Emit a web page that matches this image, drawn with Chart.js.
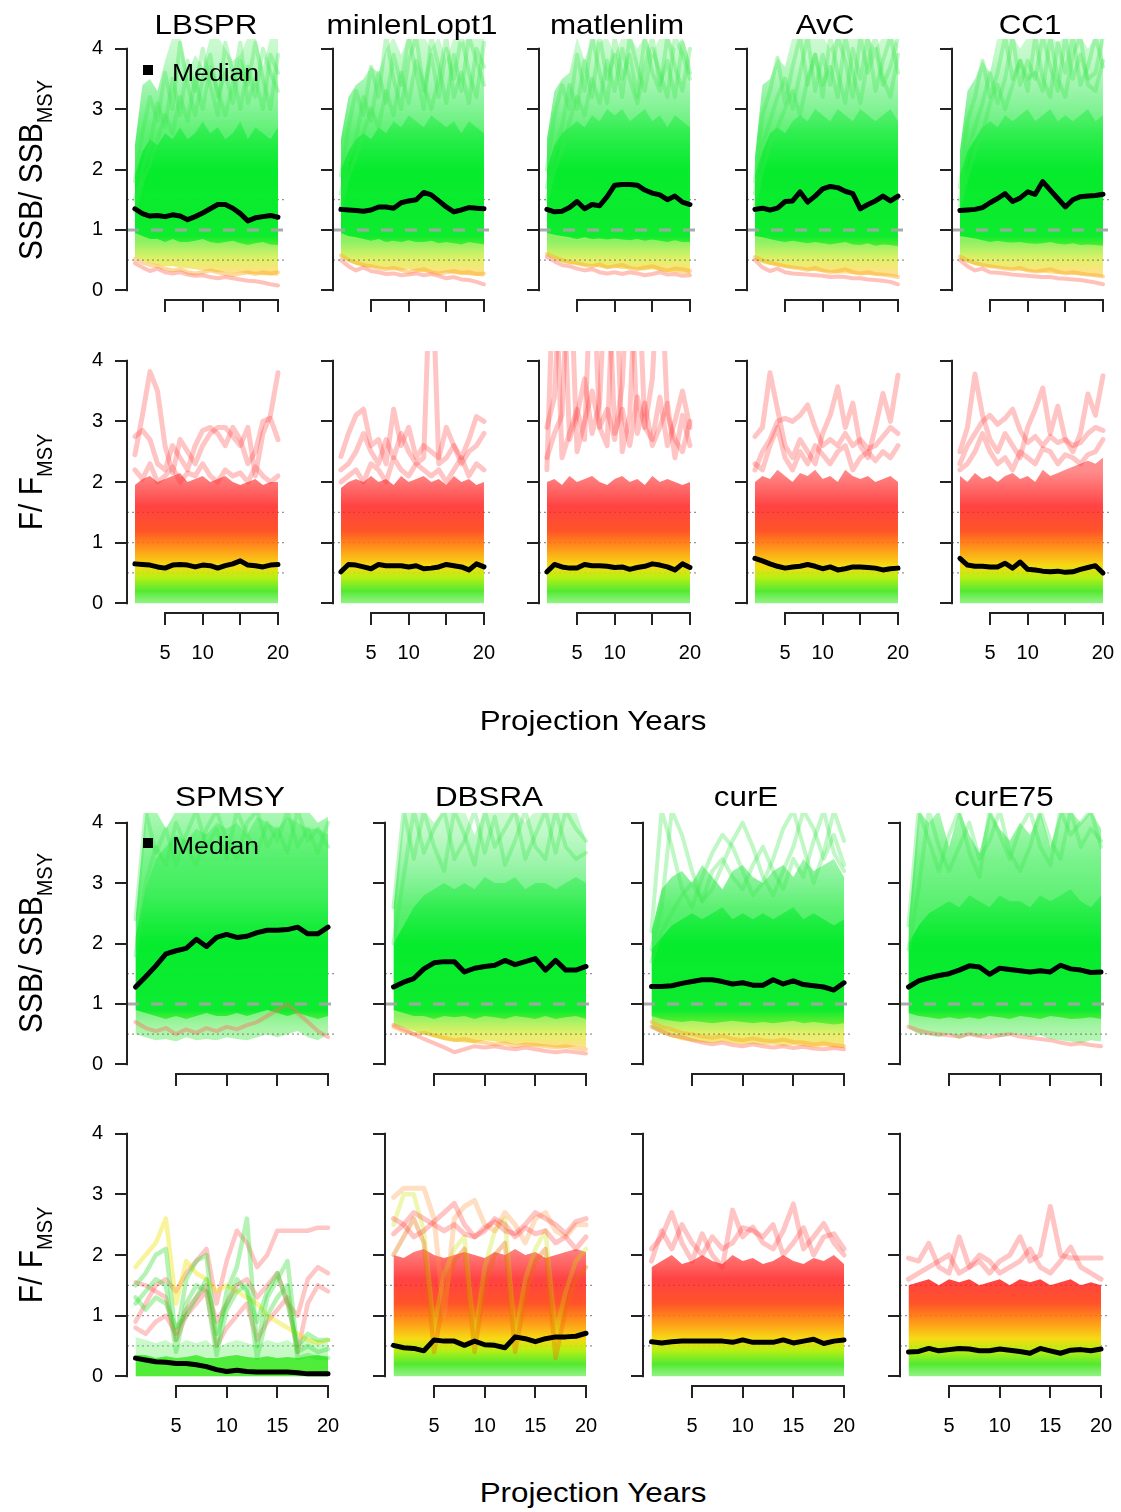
<!DOCTYPE html>
<html>
<head>
<meta charset="utf-8">
<script src="https://cdn.jsdelivr.net/npm/chart.js@4.4.1/dist/chart.umd.min.js"></script>
<style>
  body { margin: 0; background: #fff; }
  #page { position: relative; width: 1121px; height: 1512px; overflow: hidden; font-family: "Liberation Sans", Arial, sans-serif; color: #000; }
  canvas { position: absolute; }
  .txt { position: absolute; white-space: nowrap; z-index: 5; }
  .title { font-size: 28px; line-height: 28px; transform: translateX(-50%) scaleX(1.12); }
  .xlab { font-size: 28px; line-height: 28px; transform: translateX(-50%) scaleX(1.12); }
  .ylab { font-size: 30px; line-height: 30px; transform: translate(-50%, -50%) scaleX(1.12) rotate(-90deg); }
  .ylab span { font-size: 20px; position: relative; top: 9px; }
  .leg { font-size: 23.5px; line-height: 23.5px; transform-origin: left top; transform: scaleX(1.13); }
  .legbox { position: absolute; width: 10px; height: 10px; background: #000; z-index: 5; }
</style>
</head>
<body>
<div id="page"></div>
<script>
// projection years and axis ticks
const years = [1, 2, 3, 4, 5, 6, 7, 8, 9, 10, 11, 12, 13, 14, 15, 16, 17, 18, 19, 20];
const yTicks = [0, 1, 2, 3, 4];
const xTicks = [5, 10, 15, 20];
const refLevels = [0.5, 1, 1.5];

// ---------- SSB / SSBMSY, first group ----------
const ssbMed_LBSPR = [1.35,1.27,1.23,1.24,1.22,1.25,1.23,1.17,1.22,1.28,1.35,1.42,1.42,1.36,1.27,1.15,1.2,1.22,1.24,1.21];
const ssbHiOut_LBSPR = [2.4,3.4,3.5,3.3,3.8,4.2,4.2,3.6,3.9,3.7,4.2,4.2,4.0,3.8,3.9,4.2,4.2,3.7,4.2,4.2];
const ssbHiCore_LBSPR = [1.9,2.3,2.5,2.4,2.6,2.5,2.7,2.5,2.6,2.8,2.6,2.7,2.5,2.6,2.8,2.5,2.7,2.6,2.5,2.7];
const ssbLoCore_LBSPR = [0.95,0.9,0.85,0.85,0.8,0.85,0.8,0.8,0.82,0.85,0.8,0.78,0.8,0.82,0.78,0.75,0.78,0.8,0.76,0.75];
const ssbLoOut_LBSPR = [0.55,0.5,0.45,0.42,0.4,0.4,0.38,0.36,0.35,0.33,0.32,0.3,0.3,0.28,0.3,0.27,0.27,0.25,0.25,0.24];
const ssbLow_LBSPR = [
  [0.45,0.38,0.32,0.36,0.3,0.28,0.3,0.26,0.24,0.25,0.22,0.2,0.22,0.2,0.18,0.16,0.15,0.13,0.1,0.08],
  [0.52,0.46,0.42,0.4,0.36,0.33,0.35,0.3,0.28,0.3,0.33,0.3,0.27,0.25,0.28,0.3,0.27,0.3,0.28,0.3]
];
const ssbHigh_LBSPR = [
  [1.8,2.6,3.2,2.8,3.6,3.0,4.1,3.4,2.9,3.5,3.9,3.2,3.6,3.1,3.8,3.4,4.1,3.5,3.0,3.9],
  [1.5,2.0,2.4,3.1,2.7,3.5,2.9,3.8,3.3,4.0,3.4,2.9,4.1,3.6,3.0,3.7,3.2,4.0,3.6,3.3],
  [1.3,1.8,2.1,2.5,2.9,2.6,3.2,2.8,3.5,3.0,3.7,3.3,2.9,3.4,4.1,3.1,3.5,3.0,3.9,3.6]
];

const ssbMed_minlenLopt1 = [1.34,1.33,1.32,1.31,1.33,1.38,1.38,1.36,1.45,1.48,1.5,1.62,1.58,1.48,1.38,1.3,1.33,1.37,1.36,1.35];
const ssbHiOut_minlenLopt1 = [2.5,3.2,3.4,3.5,3.7,3.6,4.0,4.2,3.9,4.2,4.2,4.2,4.0,4.2,3.8,4.2,4.1,4.2,4.2,4.2];
const ssbHiCore_minlenLopt1 = [2.0,2.3,2.5,2.6,2.5,2.7,2.6,2.8,2.7,2.9,2.8,2.7,2.9,2.8,2.7,2.8,2.6,2.8,2.7,2.6];
const ssbLoCore_minlenLopt1 = [0.95,0.9,0.88,0.85,0.82,0.85,0.8,0.82,0.8,0.83,0.8,0.8,0.82,0.78,0.8,0.78,0.76,0.8,0.78,0.76];
const ssbLoOut_minlenLopt1 = [0.55,0.48,0.42,0.4,0.38,0.36,0.35,0.34,0.33,0.35,0.32,0.3,0.3,0.28,0.3,0.27,0.26,0.25,0.24,0.23];
const ssbLow_minlenLopt1 = [
  [0.5,0.4,0.33,0.38,0.32,0.3,0.27,0.28,0.25,0.26,0.28,0.25,0.27,0.24,0.2,0.22,0.18,0.17,0.14,0.1],
  [0.58,0.5,0.46,0.42,0.4,0.37,0.35,0.37,0.34,0.3,0.33,0.35,0.3,0.28,0.3,0.32,0.29,0.3,0.27,0.28]
];
const ssbHigh_minlenLopt1 = [
  [1.9,2.7,3.3,2.9,3.7,3.2,4.2,3.5,3.0,3.8,4.2,3.3,3.9,3.2,4.0,3.5,4.2,3.6,3.2,4.1],
  [1.6,2.2,2.5,3.2,2.8,3.6,3.1,3.9,3.4,4.2,3.6,3.0,4.2,3.7,3.1,3.9,3.3,4.2,3.8,3.4],
  [1.4,1.9,2.2,2.6,3.0,2.7,3.3,2.9,3.6,3.1,3.8,3.4,3.0,3.5,4.2,3.2,3.6,3.1,4.0,3.7]
];

const ssbMed_matlenlim = [1.34,1.3,1.31,1.37,1.47,1.35,1.42,1.4,1.55,1.74,1.75,1.75,1.74,1.66,1.61,1.58,1.5,1.56,1.46,1.42];
const ssbHiOut_matlenlim = [2.5,3.3,3.5,3.6,4.2,3.8,4.2,4.1,4.2,3.9,4.2,4.2,4.0,4.2,3.9,4.2,4.2,4.0,4.2,3.8];
const ssbHiCore_matlenlim = [2.0,2.4,2.6,2.7,2.8,2.7,2.9,2.8,3.0,2.9,3.0,2.8,2.9,3.0,2.8,2.9,2.7,2.9,2.8,2.7];
const ssbLoCore_matlenlim = [0.95,0.92,0.9,0.88,0.85,0.88,0.85,0.86,0.84,0.86,0.84,0.83,0.85,0.82,0.84,0.82,0.8,0.83,0.8,0.8];
const ssbLoOut_matlenlim = [0.58,0.52,0.46,0.44,0.42,0.4,0.4,0.38,0.36,0.38,0.35,0.36,0.34,0.33,0.35,0.32,0.3,0.3,0.28,0.27];
const ssbLow_matlenlim = [
  [0.55,0.48,0.42,0.4,0.36,0.33,0.35,0.3,0.28,0.3,0.27,0.3,0.28,0.25,0.27,0.3,0.26,0.27,0.24,0.25],
  [0.6,0.55,0.5,0.47,0.45,0.42,0.4,0.43,0.38,0.4,0.42,0.37,0.35,0.38,0.4,0.36,0.33,0.36,0.35,0.32]
];
const ssbHigh_matlenlim = [
  [2.0,2.9,3.4,3.0,3.9,3.3,4.2,3.6,3.1,4.2,3.5,3.9,3.2,4.2,3.6,3.3,4.2,3.7,3.3,4.0],
  [1.7,2.3,2.7,3.4,3.0,3.8,3.2,4.2,3.5,3.9,3.2,4.2,3.7,3.3,4.0,3.6,3.2,4.2,3.9,3.5],
  [1.5,2.0,2.3,2.8,3.2,2.9,3.5,3.1,3.8,3.3,4.0,3.5,3.1,3.7,4.2,3.4,3.8,3.2,4.1,3.6]
];

const ssbMed_AvC = [1.34,1.36,1.33,1.36,1.47,1.48,1.63,1.46,1.56,1.68,1.72,1.7,1.64,1.6,1.35,1.42,1.48,1.56,1.48,1.56];
const ssbHiOut_AvC = [2.2,3.4,3.5,3.85,3.7,4.2,4.2,4.2,4.2,4.2,4.0,4.2,4.2,4.2,4.2,4.2,4.0,4.2,4.2,4.1];
const ssbHiCore_AvC = [1.9,2.3,2.6,2.7,2.6,2.8,2.9,2.8,3.0,2.9,2.8,3.0,2.9,2.8,3.0,2.9,2.8,2.9,3.0,2.8];
const ssbLoCore_AvC = [0.9,0.88,0.85,0.82,0.8,0.82,0.8,0.78,0.8,0.78,0.76,0.78,0.8,0.76,0.75,0.78,0.74,0.76,0.75,0.73];
const ssbLoOut_AvC = [0.5,0.45,0.42,0.4,0.38,0.36,0.35,0.33,0.32,0.3,0.3,0.28,0.28,0.27,0.26,0.26,0.25,0.24,0.24,0.22];
const ssbLow_AvC = [
  [0.5,0.38,0.32,0.36,0.3,0.28,0.27,0.26,0.25,0.24,0.22,0.23,0.22,0.2,0.2,0.18,0.17,0.16,0.14,0.1],
  [0.55,0.5,0.46,0.43,0.4,0.38,0.36,0.34,0.37,0.33,0.3,0.32,0.35,0.3,0.28,0.3,0.27,0.26,0.24,0.22]
];
const ssbHigh_AvC = [
  [1.8,2.9,3.3,3.85,3.1,3.7,4.2,3.4,3.9,3.2,4.2,3.6,3.1,4.0,3.5,4.2,3.3,3.8,4.2,3.6],
  [1.6,2.4,2.8,3.2,3.5,3.0,3.6,4.2,3.3,3.9,3.4,4.2,3.8,3.2,4.2,3.6,4.0,3.4,3.7,4.2],
  [1.4,2.0,2.4,2.7,3.0,3.3,2.9,3.5,3.9,3.4,3.7,3.2,4.2,3.6,3.1,3.8,4.2,3.5,3.2,3.9]
];

const ssbMed_CC1 = [1.32,1.33,1.34,1.37,1.45,1.52,1.6,1.47,1.53,1.63,1.59,1.8,1.66,1.52,1.38,1.5,1.55,1.56,1.57,1.59];
const ssbHiOut_CC1 = [2.3,3.3,3.5,3.8,3.6,4.2,4.2,4.2,4.0,4.2,4.2,4.2,4.2,4.1,4.2,4.2,4.2,4.0,4.2,4.2];
const ssbHiCore_CC1 = [1.9,2.3,2.5,2.7,2.8,2.7,2.9,2.8,2.9,3.0,2.8,2.9,3.0,2.8,2.9,2.8,2.9,3.0,2.8,2.9];
const ssbLoCore_CC1 = [0.9,0.88,0.86,0.83,0.8,0.82,0.8,0.79,0.8,0.78,0.77,0.78,0.8,0.77,0.76,0.78,0.75,0.76,0.75,0.74];
const ssbLoOut_CC1 = [0.5,0.46,0.42,0.4,0.38,0.37,0.35,0.34,0.33,0.31,0.3,0.29,0.28,0.27,0.27,0.26,0.25,0.24,0.23,0.22];
const ssbLow_CC1 = [
  [0.5,0.4,0.33,0.36,0.3,0.29,0.28,0.26,0.25,0.24,0.23,0.22,0.22,0.2,0.19,0.18,0.17,0.15,0.13,0.1],
  [0.56,0.5,0.45,0.42,0.4,0.38,0.36,0.35,0.37,0.33,0.31,0.33,0.35,0.31,0.28,0.3,0.28,0.26,0.25,0.23]
];
const ssbHigh_CC1 = [
  [1.7,2.8,3.2,3.8,3.2,3.6,4.2,3.5,3.8,3.3,4.2,3.5,3.2,4.1,3.6,4.2,3.4,3.7,4.2,3.7],
  [1.5,2.3,2.7,3.1,3.6,3.1,3.5,4.2,3.4,3.8,3.5,4.2,3.7,3.3,4.2,3.5,3.9,3.5,3.6,4.2],
  [1.4,1.9,2.3,2.6,3.1,3.4,3.0,3.4,3.8,3.5,3.6,3.3,4.2,3.5,3.2,3.9,4.2,3.4,3.3,3.8]
];

// ---------- F / FMSY, first group ----------
const fMed_LBSPR = [0.65,0.64,0.63,0.6,0.58,0.63,0.64,0.63,0.6,0.63,0.62,0.58,0.62,0.65,0.7,0.63,0.62,0.6,0.63,0.64];
const fCore_LBSPR = [1.95,2.05,2.1,2.0,2.05,2.1,2.15,2.0,2.05,2.1,2.0,2.05,2.1,2.0,1.95,2.0,2.05,1.95,2.0,2.0];
const fHigh_LBSPR = [
  [2.45,3.1,3.82,3.5,2.6,2.15,2.7,2.5,2.3,2.6,2.8,2.9,2.9,2.75,2.6,2.9,2.1,2.8,3.1,3.8],
  [2.75,2.85,2.7,2.3,2.2,2.6,2.4,2.2,2.6,2.85,2.9,2.8,2.6,2.9,2.7,2.3,2.5,3.0,3.05,2.7],
  [2.2,2.05,2.3,2.0,2.1,2.25,2.0,2.15,2.1,2.3,2.1,2.0,2.2,2.1,2.15,2.0,2.25,2.1,2.0,2.1]
];

const fMed_minlenLopt1 = [0.52,0.64,0.63,0.6,0.57,0.64,0.62,0.62,0.62,0.6,0.62,0.57,0.58,0.6,0.64,0.62,0.6,0.55,0.65,0.6];
const fCore_minlenLopt1 = [1.9,2.0,2.05,2.0,2.1,2.0,2.05,1.95,2.1,2.0,2.05,2.1,2.0,2.05,1.95,2.1,2.0,2.05,1.95,2.0];
const fHigh_minlenLopt1 = [
  [2.42,2.8,3.1,3.2,2.6,2.7,2.3,3.2,2.6,2.9,2.4,2.6,2.5,2.4,2.9,2.6,2.4,2.7,3.08,3.0],
  [2.2,2.3,2.5,2.8,2.5,2.3,2.7,2.4,2.8,2.5,2.3,2.4,6.0,2.3,2.4,2.6,2.3,2.5,2.6,2.8],
  [2.0,2.1,2.2,2.0,2.3,2.2,2.0,2.4,2.2,2.1,2.3,2.2,2.1,2.2,2.0,2.2,2.4,2.1,2.3,2.2]
];

const fMed_matlenlim = [0.52,0.64,0.6,0.58,0.58,0.64,0.62,0.62,0.61,0.59,0.6,0.56,0.59,0.61,0.65,0.63,0.6,0.55,0.65,0.59];
const fCore_matlenlim = [2.0,2.05,1.95,2.1,2.0,2.05,2.1,2.0,1.95,2.05,2.1,2.0,2.05,1.95,2.1,2.0,2.05,2.0,1.95,2.0];
const fHigh_matlenlim = [
  [2.2,6.0,2.4,2.8,3.2,2.7,6.0,2.9,2.6,6.0,2.5,3.1,6.0,2.9,2.7,3.4,2.6,3.0,3.5,2.9],
  [2.9,3.4,6.0,2.7,3.1,3.7,2.8,3.3,6.0,2.8,3.2,2.6,3.4,2.9,3.7,6.0,3.1,2.7,2.5,3.0],
  [2.4,2.8,3.1,6.0,2.5,3.0,3.5,2.9,3.2,2.7,3.6,6.0,2.8,3.3,2.6,2.9,3.3,2.4,3.1,2.6]
];

const fMed_AvC = [0.74,0.7,0.65,0.61,0.58,0.6,0.61,0.64,0.61,0.57,0.6,0.55,0.57,0.6,0.6,0.59,0.58,0.55,0.57,0.58];
const fCore_AvC = [2.0,2.1,2.05,2.2,2.1,2.0,2.15,2.1,2.2,2.05,2.1,2.0,2.2,2.1,2.05,2.1,2.0,2.05,2.1,2.0];
const fHigh_AvC = [
  [2.75,2.9,3.8,3.2,2.6,2.4,2.7,2.5,2.3,2.8,3.1,3.57,2.9,3.3,2.6,2.4,2.9,3.46,3.0,3.76],
  [2.2,2.5,2.7,3.0,3.05,3.0,3.1,3.27,2.9,2.6,2.7,2.6,2.8,2.6,2.7,2.55,2.6,2.75,2.9,2.8],
  [2.3,2.2,2.6,2.9,2.4,2.2,2.5,2.3,2.6,2.45,2.3,2.5,2.6,2.2,2.4,2.5,2.35,2.5,2.4,2.6]
];

const fMed_CC1 = [0.74,0.63,0.61,0.61,0.6,0.6,0.66,0.58,0.68,0.56,0.55,0.53,0.52,0.53,0.51,0.52,0.56,0.59,0.62,0.5];
const fCore_CC1 = [2.1,2.0,2.15,2.05,2.1,2.0,2.1,2.15,2.05,2.1,2.0,2.2,2.1,2.15,2.2,2.25,2.3,2.35,2.3,2.4];
const fHigh_CC1 = [
  [2.5,2.9,3.78,3.1,2.7,2.5,2.8,2.6,2.4,2.9,3.2,3.55,2.8,3.25,2.7,2.5,2.8,3.45,3.1,3.75],
  [2.3,2.6,2.8,3.0,3.1,2.95,3.05,3.2,2.85,2.65,2.75,2.6,2.75,2.65,2.7,2.6,2.65,2.8,2.9,2.85],
  [2.2,2.3,2.5,2.8,2.5,2.3,2.4,2.2,2.5,2.4,2.3,2.55,2.5,2.3,2.45,2.4,2.3,2.45,2.5,2.7]
];

// ---------- SSB / SSBMSY, second group ----------
const ssbMed_SPMSY = [1.28,1.45,1.63,1.83,1.88,1.92,2.07,1.95,2.1,2.15,2.1,2.12,2.18,2.22,2.22,2.23,2.27,2.16,2.16,2.27];
const ssbHiOut_SPMSY = [2.4,4.2,4.2,3.9,4.2,4.2,4.2,4.2,4.2,4.2,4.2,4.2,4.2,4.2,4.2,4.2,4.2,4.2,4.0,4.1];
const ssbHiCore_SPMSY = [2.1,2.9,3.4,3.6,3.8,3.7,3.9,3.8,4.0,3.9,4.0,3.8,4.1,4.0,3.9,4.1,4.0,3.9,3.9,3.8];
const ssbLoCore_SPMSY = [0.9,0.85,0.8,0.75,0.8,0.75,0.8,0.85,0.8,0.8,0.85,0.8,0.85,0.9,0.85,0.8,0.85,0.8,0.75,0.8];
const ssbLoOut_SPMSY = [0.5,0.45,0.4,0.42,0.38,0.45,0.4,0.42,0.4,0.45,0.42,0.4,0.45,0.5,0.45,0.5,0.55,0.45,0.4,0.5];
const ssbLow_SPMSY = [
  [0.7,0.6,0.55,0.6,0.5,0.58,0.52,0.6,0.55,0.62,0.58,0.65,0.7,0.8,0.9,1.0,0.85,0.7,0.55,0.45]
];
const ssbHigh_SPMSY = [
  [2.4,4.2,3.5,3.9,3.3,3.8,4.2,3.6,3.9,3.4,4.2,3.8,3.5,4.0,3.7,4.2,3.6,3.9,3.5,4.0],
  [1.8,3.0,3.6,3.3,4.0,3.6,3.3,3.9,4.2,3.7,3.4,4.0,4.2,3.6,3.9,3.5,4.2,3.7,3.9,3.6]
];

const ssbMed_DBSRA = [1.28,1.36,1.42,1.58,1.68,1.7,1.7,1.53,1.59,1.62,1.64,1.72,1.65,1.7,1.75,1.56,1.72,1.56,1.56,1.62];
const ssbHiOut_DBSRA = [2.6,4.2,4.2,4.2,4.0,4.2,4.2,4.2,3.8,4.2,4.2,4.2,4.2,4.0,4.2,4.2,4.2,4.2,4.2,3.7];
const ssbHiCore_DBSRA = [2.0,2.3,2.6,2.8,2.9,3.0,2.9,3.0,2.9,3.1,3.0,3.0,3.1,2.9,3.0,3.0,2.9,3.0,3.1,3.0];
const ssbLoCore_DBSRA = [0.9,0.85,0.8,0.8,0.75,0.8,0.78,0.8,0.75,0.8,0.78,0.75,0.8,0.78,0.75,0.8,0.75,0.78,0.8,0.75];
const ssbLoOut_DBSRA = [0.65,0.6,0.55,0.5,0.45,0.4,0.38,0.36,0.35,0.4,0.38,0.35,0.33,0.32,0.3,0.3,0.28,0.27,0.3,0.28];
const ssbLow_DBSRA = [
  [0.65,0.58,0.5,0.42,0.35,0.28,0.2,0.25,0.3,0.28,0.3,0.27,0.25,0.28,0.25,0.22,0.2,0.22,0.2,0.18],
  [0.62,0.55,0.5,0.52,0.48,0.44,0.4,0.42,0.38,0.36,0.33,0.35,0.3,0.33,0.32,0.3,0.28,0.3,0.27,0.25]
];
const ssbHigh_DBSRA = [
  [2.6,4.2,3.4,4.2,3.6,3.2,4.2,3.8,3.3,4.2,3.6,3.9,4.2,3.4,3.8,4.2,3.5,4.2,3.9,3.7],
  [2.0,3.1,4.2,3.5,3.9,4.2,3.4,3.7,4.2,3.5,4.1,3.3,3.7,4.2,3.6,3.4,4.2,3.6,3.4,3.5]
];

const ssbMed_curE = [1.29,1.29,1.3,1.34,1.37,1.4,1.4,1.37,1.33,1.35,1.31,1.31,1.4,1.33,1.38,1.32,1.3,1.28,1.23,1.35];
const ssbHiOut_curE = [2.2,2.9,3.1,3.2,3.0,3.3,3.1,2.9,3.2,3.3,3.1,3.0,3.2,3.3,3.1,3.4,3.2,3.3,3.4,3.1];
const ssbHiCore_curE = [1.9,2.1,2.3,2.4,2.5,2.4,2.5,2.6,2.4,2.5,2.4,2.5,2.4,2.5,2.6,2.4,2.5,2.4,2.3,2.4];
const ssbLoCore_curE = [0.8,0.75,0.72,0.7,0.72,0.7,0.68,0.7,0.72,0.7,0.68,0.7,0.68,0.7,0.72,0.68,0.7,0.68,0.66,0.68];
const ssbLoOut_curE = [0.6,0.5,0.45,0.4,0.38,0.36,0.35,0.38,0.35,0.33,0.34,0.32,0.33,0.3,0.32,0.3,0.28,0.3,0.28,0.27];
const ssbLow_curE = [
  [0.62,0.55,0.48,0.45,0.4,0.36,0.33,0.36,0.32,0.3,0.33,0.3,0.28,0.3,0.27,0.29,0.26,0.25,0.27,0.25],
  [0.7,0.62,0.58,0.52,0.5,0.46,0.44,0.47,0.42,0.4,0.43,0.4,0.38,0.41,0.37,0.36,0.33,0.35,0.32,0.3]
];
const ssbHigh_curE = [
  [2.2,4.2,3.6,2.9,2.6,3.1,3.5,3.8,3.6,3.2,2.8,3.0,3.4,3.9,4.2,3.6,3.0,3.5,4.2,3.7],
  [1.9,2.6,4.2,3.8,3.2,2.7,2.9,3.3,3.7,4.0,3.6,3.1,2.8,3.2,3.6,4.2,3.9,3.4,3.8,3.3],
  [1.7,2.2,2.5,2.8,3.0,2.7,3.2,3.4,3.1,2.9,3.3,3.6,3.2,2.9,3.4,3.1,3.7,4.2,3.5,3.2]
];

const ssbMed_curE75 = [1.28,1.38,1.43,1.47,1.5,1.56,1.63,1.61,1.49,1.59,1.57,1.55,1.53,1.55,1.53,1.64,1.58,1.56,1.52,1.53];
const ssbHiOut_curE75 = [2.3,4.2,4.0,4.2,3.6,4.2,3.8,3.5,4.2,3.9,3.7,4.0,3.8,4.2,3.6,4.2,4.2,4.0,4.2,3.9];
const ssbHiCore_curE75 = [2.0,2.3,2.5,2.6,2.7,2.6,2.8,2.7,2.6,2.8,2.7,2.7,2.6,2.8,2.7,2.8,2.9,2.7,2.6,2.8];
const ssbLoCore_curE75 = [0.85,0.8,0.78,0.75,0.78,0.75,0.78,0.75,0.8,0.78,0.75,0.8,0.78,0.75,0.8,0.78,0.75,0.76,0.78,0.75];
const ssbLoOut_curE75 = [0.6,0.5,0.48,0.45,0.5,0.42,0.48,0.45,0.5,0.45,0.48,0.5,0.45,0.48,0.42,0.4,0.38,0.35,0.4,0.38];
const ssbLow_curE75 = [
  [0.62,0.56,0.52,0.5,0.48,0.46,0.5,0.47,0.45,0.48,0.5,0.46,0.44,0.42,0.4,0.36,0.33,0.35,0.32,0.3]
];
const ssbHigh_curE75 = [
  [2.3,4.2,3.7,3.2,3.8,4.2,3.5,3.1,4.2,3.8,3.4,3.9,4.2,3.6,3.3,4.2,3.8,4.0,4.2,3.6],
  [1.9,2.9,4.2,3.6,3.2,3.6,4.0,3.4,3.7,4.2,3.5,3.2,3.6,4.2,3.7,3.4,4.2,3.6,3.9,3.7]
];

// ---------- F / FMSY, second group ----------
const fMed_SPMSY = [0.3,0.27,0.24,0.23,0.21,0.21,0.19,0.16,0.11,0.08,0.1,0.08,0.07,0.07,0.07,0.07,0.06,0.04,0.04,0.04];
const fCore_SPMSY = [0.35,0.35,0.3,0.33,0.3,0.32,0.35,0.3,0.3,0.33,0.35,0.32,0.3,0.33,0.3,0.32,0.3,0.33,0.35,0.32];
const fOut_SPMSY = [0.65,0.6,0.55,0.6,0.5,0.6,0.55,0.6,0.45,0.55,0.6,0.55,0.5,0.6,0.55,0.6,0.5,0.65,0.6,0.55];
const fGreen_SPMSY = [
  [1.5,1.7,2.0,2.1,0.6,1.6,1.9,2.0,0.5,1.4,1.8,2.6,0.5,1.3,1.6,1.9,0.4,0.5,0.4,0.45],
  [1.2,1.4,1.6,1.5,0.4,1.2,1.5,1.4,0.35,1.1,1.4,1.5,0.3,1.0,1.3,1.5,0.3,0.35,0.3,0.3],
  [1.3,1.1,1.3,1.2,0.8,1.0,1.3,1.6,0.7,1.2,1.6,1.4,0.9,1.4,1.7,1.2,0.5,0.7,0.6,0.6]
];
const fYellow_SPMSY = [
  [1.8,2.0,2.2,2.6,1.2,1.9,1.7,1.6,1.4,1.5,1.4,1.3,1.2,1.0,0.9,0.8,0.7,0.6,0.55,0.6]
];
const fRed_SPMSY = [
  [0.9,1.2,1.5,1.6,1.4,1.7,1.9,2.1,1.2,1.9,2.4,2.2,1.8,2.0,2.4,2.4,2.4,2.4,2.45,2.45],
  [0.8,0.7,0.9,1.0,0.7,1.1,1.3,1.5,0.9,1.2,1.5,1.6,1.3,1.5,1.7,1.2,1.0,1.6,1.8,1.7],
  [1.55,1.5,1.4,1.3,0.6,1.0,1.2,1.4,0.5,0.8,1.0,1.2,0.6,0.9,1.1,1.3,0.4,1.2,1.5,1.4]
];

const fMed_DBSRA = [0.51,0.47,0.46,0.42,0.6,0.58,0.58,0.51,0.58,0.52,0.51,0.47,0.65,0.62,0.57,0.62,0.65,0.65,0.66,0.71];
const fCore_DBSRA = [2.0,1.95,2.05,2.1,2.0,1.95,2.0,2.05,2.0,1.95,2.05,2.0,2.1,2.0,2.05,1.95,2.0,2.05,2.1,2.05];
const fHigh_DBSRA = [
  [2.35,2.5,2.7,2.6,2.5,2.4,2.5,2.35,2.3,2.45,2.55,2.4,2.35,2.5,2.7,2.6,2.5,2.35,2.55,2.6],
  [2.6,2.5,2.3,2.4,2.55,2.7,2.85,2.5,2.3,2.4,2.6,2.5,2.3,2.45,2.35,2.4,2.2,2.3,2.1,2.3]
];
const fPeach_DBSRA = [
  [2.95,3.1,3.1,3.1,2.6,1.0,2.6,2.8,2.9,2.5,2.4,2.7,2.5,2.2,2.6,2.7,2.4,2.3,2.5,2.5]
];
const fSwing_DBSRA = [
  [2.0,2.3,2.6,2.2,0.4,1.3,1.9,2.1,0.4,1.5,2.0,2.2,0.4,1.3,1.9,2.1,0.3,1.1,1.6,1.8],
  [2.5,3.0,3.0,2.4,0.8,1.7,2.1,2.3,0.6,1.8,2.4,2.6,0.6,1.6,2.1,2.4,0.7,1.4,1.9,2.1]
];

const fMed_curE = [0.57,0.55,0.57,0.58,0.58,0.58,0.58,0.58,0.56,0.6,0.56,0.56,0.56,0.6,0.55,0.58,0.61,0.54,0.58,0.6];
const fCore_curE = [1.8,1.9,2.0,1.85,1.9,2.0,1.9,1.85,2.0,1.9,1.95,1.85,1.9,2.0,1.9,1.85,1.95,1.9,2.0,1.85];
const fHigh_curE = [
  [2.1,2.3,2.7,2.2,1.9,2.35,2.0,1.8,2.74,2.3,2.46,2.2,2.1,2.4,2.84,2.1,2.3,2.52,2.2,2.0],
  [1.9,2.4,2.1,2.5,2.2,2.0,2.3,2.1,2.2,2.45,2.4,2.3,2.5,2.0,2.2,2.45,2.0,2.3,2.35,2.1]
];

const fMed_curE75 = [0.4,0.41,0.46,0.42,0.44,0.46,0.45,0.42,0.42,0.45,0.43,0.41,0.38,0.46,0.42,0.38,0.43,0.44,0.42,0.45];
const fCore_curE75 = [1.5,1.55,1.6,1.5,1.6,1.55,1.6,1.5,1.55,1.6,1.5,1.6,1.55,1.6,1.5,1.55,1.6,1.5,1.55,1.5];
const fHigh_curE75 = [
  [1.95,1.9,2.19,1.8,1.7,2.3,1.8,1.9,1.7,1.9,2.0,2.3,1.9,2.0,2.8,2.0,1.95,1.95,1.95,1.95],
  [1.6,1.7,1.8,1.9,2.0,1.7,1.8,2.0,1.9,1.7,1.8,1.9,2.1,1.8,1.7,1.9,2.13,1.8,1.7,1.6]
];

// ---------- colours ----------
const PINK = 'rgba(255,40,40,0.27)';
const LIGHT_GREEN = 'rgba(60,230,80,0.33)';
const LOW_COLORS = ['rgba(255,110,90,0.42)', 'rgba(250,170,40,0.45)'];

const ssbOuterStops = [[0, 'rgba(255,150,100,0.45)'], [0.3, 'rgba(252,205,50,0.58)'], [0.5, 'rgba(215,235,30,0.68)'],
  [0.8, 'rgba(100,235,40,0.72)'], [2.0, 'rgba(20,235,55,0.8)'], [2.6, 'rgba(30,235,60,0.72)'], [3.2, 'rgba(60,235,90,0.56)'], [3.8, 'rgba(100,240,120,0.42)'], [4.2, 'rgba(120,240,130,0.36)']];
const ssbOuterGreenStops = [[0, 'rgba(120,235,120,0.4)'], [0.6, 'rgba(80,235,80,0.5)'], [0.85, 'rgba(50,235,60,0.62)'],
  [2.0, 'rgba(20,235,55,0.8)'], [2.6, 'rgba(30,235,60,0.74)'], [3.4, 'rgba(40,235,70,0.62)'], [4.2, 'rgba(80,240,100,0.48)']];
const ssbCoreStops = [[0.6, 'rgba(120,235,40,0.85)'], [0.9, 'rgba(0,235,40,0.9)'], [2.0, 'rgba(0,235,40,0.9)'], [2.8, 'rgba(10,235,50,0.4)'], [4.2, 'rgba(30,235,60,0.3)']];
const fStops = [[0, 'rgba(110,238,90,0.75)'], [0.2, 'rgba(60,230,20,0.88)'], [0.42, 'rgba(175,238,0,0.92)'], [0.62, 'rgba(245,215,0,0.92)'],
  [0.9, 'rgba(255,140,0,0.9)'], [1.2, 'rgba(255,60,10,0.88)'], [1.6, 'rgba(255,25,25,0.82)'], [2.2, 'rgba(255,70,70,0.62)']];
const fGreenCoreStops = [[0, 'rgba(70,235,40,0.9)'], [0.4, 'rgba(60,235,40,0.85)']];
const fGreenOutStops = [[0, 'rgba(90,235,90,0.4)'], [0.7, 'rgba(110,240,110,0.35)']];

// ---------- panels ----------
function ssbSpec(med, hiOut, hiCore, loCore, loOut, low, high, outerStops) {
  return { med, hiOut, hiCore, loCore, loOut, low, high, outerStops: outerStops || ssbOuterStops };
}
function fSpec(med, core, lines, extra) {
  return Object.assign({ med, core, lines, coreStops: fStops }, extra || {});
}
const asLines = (arr, color, width) => arr.map(d => ({ data: d, color, width: width || 5 }));

const groups = [
  {
    cols: [127, 333.3, 538.5, 746.7, 951.7], areaW: 157, xMin: -0.05, xMax: 20.8,
    ssbRow: { four: 49, zero: 291 }, fRow: { four: 360.7, zero: 603.3 },
    titleBase: 35, xlabBase: 731, legendY: 70, hideX: [15],
    panels: [
      { title: 'LBSPR',
        ssb: ssbSpec(ssbMed_LBSPR, ssbHiOut_LBSPR, ssbHiCore_LBSPR, ssbLoCore_LBSPR, ssbLoOut_LBSPR, ssbLow_LBSPR, ssbHigh_LBSPR),
        f: fSpec(fMed_LBSPR, fCore_LBSPR, asLines(fHigh_LBSPR, PINK)) },
      { title: 'minlenLopt1',
        ssb: ssbSpec(ssbMed_minlenLopt1, ssbHiOut_minlenLopt1, ssbHiCore_minlenLopt1, ssbLoCore_minlenLopt1, ssbLoOut_minlenLopt1, ssbLow_minlenLopt1, ssbHigh_minlenLopt1),
        f: fSpec(fMed_minlenLopt1, fCore_minlenLopt1, asLines(fHigh_minlenLopt1, PINK)) },
      { title: 'matlenlim',
        ssb: ssbSpec(ssbMed_matlenlim, ssbHiOut_matlenlim, ssbHiCore_matlenlim, ssbLoCore_matlenlim, ssbLoOut_matlenlim, ssbLow_matlenlim, ssbHigh_matlenlim),
        f: fSpec(fMed_matlenlim, fCore_matlenlim, asLines(fHigh_matlenlim, PINK)) },
      { title: 'AvC',
        ssb: ssbSpec(ssbMed_AvC, ssbHiOut_AvC, ssbHiCore_AvC, ssbLoCore_AvC, ssbLoOut_AvC, ssbLow_AvC, ssbHigh_AvC),
        f: fSpec(fMed_AvC, fCore_AvC, asLines(fHigh_AvC, PINK)) },
      { title: 'CC1',
        ssb: ssbSpec(ssbMed_CC1, ssbHiOut_CC1, ssbHiCore_CC1, ssbLoCore_CC1, ssbLoOut_CC1, ssbLow_CC1, ssbHigh_CC1),
        f: fSpec(fMed_CC1, fCore_CC1, asLines(fHigh_CC1, PINK)) }
    ]
  },
  {
    cols: [126.7, 385, 642.7, 900], areaW: 207.5, xMin: 0.16, xMax: 20.64,
    ssbRow: { four: 822.3, zero: 1064.3 }, fRow: { four: 1133.3, zero: 1376 },
    titleBase: 806.7, xlabBase: 1503, legendY: 843, hideX: [],
    panels: [
      { title: 'SPMSY',
        ssb: ssbSpec(ssbMed_SPMSY, ssbHiOut_SPMSY, ssbHiCore_SPMSY, ssbLoCore_SPMSY, ssbLoOut_SPMSY, ssbLow_SPMSY, ssbHigh_SPMSY, ssbOuterGreenStops),
        f: fSpec(fMed_SPMSY, fCore_SPMSY,
          asLines(fGreen_SPMSY, 'rgba(30,220,30,0.33)', 4.5)
            .concat(asLines(fYellow_SPMSY, 'rgba(240,225,0,0.4)', 4.5))
            .concat(asLines(fRed_SPMSY, 'rgba(255,50,50,0.28)', 4.5)),
          { out: fOut_SPMSY, coreStops: fGreenCoreStops, outStops: fGreenOutStops }) },
      { title: 'DBSRA',
        ssb: ssbSpec(ssbMed_DBSRA, ssbHiOut_DBSRA, ssbHiCore_DBSRA, ssbLoCore_DBSRA, ssbLoOut_DBSRA, ssbLow_DBSRA, ssbHigh_DBSRA),
        f: fSpec(fMed_DBSRA, fCore_DBSRA,
          asLines(fHigh_DBSRA, PINK)
            .concat(asLines(fPeach_DBSRA, 'rgba(255,150,60,0.3)'))
            .concat([{ data: fSwing_DBSRA[0], color: 'rgba(230,110,0,0.36)', width: 4.5 },
                     { data: fSwing_DBSRA[1], color: 'rgba(200,225,0,0.3)', width: 4.5 }])) },
      { title: 'curE',
        ssb: ssbSpec(ssbMed_curE, ssbHiOut_curE, ssbHiCore_curE, ssbLoCore_curE, ssbLoOut_curE, ssbLow_curE, ssbHigh_curE),
        f: fSpec(fMed_curE, fCore_curE, asLines(fHigh_curE, PINK)) },
      { title: 'curE75',
        ssb: ssbSpec(ssbMed_curE75, ssbHiOut_curE75, ssbHiCore_curE75, ssbLoCore_curE75, ssbLoOut_curE75, ssbLow_curE75, ssbHigh_curE75, ssbOuterGreenStops),
        f: fSpec(fMed_curE75, fCore_curE75, asLines(fHigh_curE75, PINK)) }
    ]
  }
];

// ---------- chart helpers ----------
Chart.defaults.font.family = '"Liberation Sans", Arial, sans-serif';

const Y_MIN = -0.16, Y_MAX = 4.16;
const Y_AXIS_W = 80, X_AXIS_H = 60, PAD_T = 34, PAD_R = 24;

function gradientFill(stops) {
  return function (context) {
    const chart = context.chart;
    if (!chart.chartArea) return 'rgba(0,0,0,0)';
    const y = chart.scales.y;
    const g = chart.ctx.createLinearGradient(0, y.getPixelForValue(0), 0, y.getPixelForValue(4.2));
    stops.forEach(s => g.addColorStop(Math.max(0, Math.min(1, s[0] / 4.2)), s[1]));
    return g;
  };
}

function series(values, style) {
  return Object.assign({
    data: years.map((yr, i) => ({ x: yr, y: values[i] })),
    pointRadius: 0,
    borderWidth: 0,
    borderColor: 'rgba(0,0,0,0)',
    fill: false,
    tension: 0,
    borderJoinStyle: 'round',
    borderCapStyle: 'round',
    clip: 0
  }, style);
}

// horizontal reference levels drawn with the y scale
const refLines = {
  id: 'refLines',
  beforeDatasetsDraw(chart, args, opts) { drawRefs(chart, opts.under); },
  afterDatasetsDraw(chart, args, opts) { drawRefs(chart, opts.over); }
};
function drawRefs(chart, list) {
  if (!list) return;
  const { ctx, chartArea, scales } = chart;
  list.forEach(r => {
    const py = scales.y.getPixelForValue(r.value);
    ctx.save();
    ctx.strokeStyle = r.color;
    ctx.lineWidth = r.width;
    ctx.setLineDash(r.dash);
    ctx.beginPath();
    ctx.moveTo(chartArea.left, py);
    ctx.lineTo(chartArea.right, py);
    ctx.stroke();
    ctx.restore();
  });
}

// axis lines that only span the first to the last tick
const rAxes = {
  id: 'rAxes',
  afterDraw(chart) {
    const { ctx, chartArea, scales: { x, y } } = chart;
    ctx.save();
    ctx.strokeStyle = '#222';
    ctx.lineWidth = 2;
    ctx.beginPath();
    ctx.moveTo(chartArea.left, y.getPixelForValue(yTicks[0]) + 1);
    ctx.lineTo(chartArea.left, y.getPixelForValue(yTicks[yTicks.length - 1]) - 1);
    ctx.moveTo(x.getPixelForValue(xTicks[0]) - 1, chartArea.bottom);
    ctx.lineTo(x.getPixelForValue(xTicks[xTicks.length - 1]) + 1, chartArea.bottom);
    ctx.stroke();
    ctx.restore();
  }
};

function ssbDatasets(s) {
  const ds = [
    series(s.loOut, { order: 50 }),
    series(s.hiOut, { order: 49, fill: '-1', backgroundColor: gradientFill(s.outerStops) }),
    series(s.loCore, { order: 40 }),
    series(s.hiCore, { order: 39, fill: '-1', backgroundColor: gradientFill(ssbCoreStops) })
  ];
  s.high.forEach(d => ds.push(series(d, { order: 30, borderColor: LIGHT_GREEN, borderWidth: 4 })));
  s.low.forEach((d, i) => ds.push(series(d, { order: 30, borderColor: LOW_COLORS[i % LOW_COLORS.length], borderWidth: 4 })));
  ds.push(series(s.med, { order: 0, borderColor: '#000', borderWidth: 5 }));
  return ds;
}

function fDatasets(f) {
  const ds = [];
  if (f.out) ds.push(series(f.out, { order: 45, fill: 'origin', backgroundColor: gradientFill(f.outStops) }));
  ds.push(series(f.core, { order: 40, fill: 'origin', backgroundColor: gradientFill(f.coreStops) }));
  f.lines.forEach(l => ds.push(series(l.data, { order: 30, borderColor: l.color, borderWidth: l.width })));
  ds.push(series(f.med, { order: 0, borderColor: '#000', borderWidth: 5 }));
  return ds;
}

const page = document.getElementById('page');

function addText(cls, html, left, top) {
  const el = document.createElement('div');
  el.className = 'txt ' + cls;
  el.innerHTML = html;
  el.style.left = left + 'px';
  el.style.top = top + 'px';
  page.appendChild(el);
  return el;
}

function makePanel(group, col, row, datasets, refs) {
  const axisX = Math.round(group.cols[col]);
  const ppu = (row.zero - row.four) / 4;
  const areaTop = row.four - (Y_MAX - 4) * ppu;
  const areaH = (Y_MAX - Y_MIN) * ppu;
  const canvas = document.createElement('canvas');
  const w = Math.round(Y_AXIS_W + group.areaW + PAD_R);
  const top = Math.round(areaTop) - PAD_T;
  const h = Math.round(PAD_T + areaH + X_AXIS_H);
  canvas.width = w;
  canvas.height = h;
  canvas.style.width = w + 'px';
  canvas.style.height = h + 'px';
  canvas.style.left = (axisX - Y_AXIS_W) + 'px';
  canvas.style.top = top + 'px';
  page.appendChild(canvas);

  const isF = row === group.fRow;
  const showY = col === 0;
  const tickFont = { size: 20 };

  new Chart(canvas, {
    type: 'line',
    data: { datasets },
    options: {
      responsive: false,
      animation: false,
      devicePixelRatio: 1,
      layout: { padding: { left: 0, top: PAD_T, right: w - Y_AXIS_W - group.areaW, bottom: 0 } },
      plugins: { legend: { display: false }, tooltip: { enabled: false }, refLines: refs },
      scales: {
        x: {
          type: 'linear', min: group.xMin, max: group.xMax,
          afterBuildTicks: s => { s.ticks = xTicks.map(v => ({ value: v })); },
          afterFit: s => { s.height = X_AXIS_H; },
          border: { display: false },
          grid: { drawOnChartArea: false, drawTicks: true, tickLength: 12, color: '#222', lineWidth: 2 },
          ticks: {
            autoSkip: false, maxRotation: 0, minRotation: 0, font: tickFont, color: '#000', padding: 16,
            callback: v => (isF && !group.hideX.includes(v)) ? String(v) : ''
          }
        },
        y: {
          min: Y_MIN, max: Y_MAX,
          afterBuildTicks: s => { s.ticks = yTicks.map(v => ({ value: v })); },
          afterFit: s => { s.width = Y_AXIS_W; },
          border: { display: false },
          grid: { drawOnChartArea: false, drawTicks: true, tickLength: 12, color: '#222', lineWidth: 2 },
          ticks: { font: tickFont, color: '#000', padding: 12, callback: v => showY ? String(v) : '' }
        }
      }
    },
    plugins: [refLines, rAxes]
  });
}

const GREY_DASH = { color: 'rgba(165,165,165,0.95)', width: 3, dash: [12, 12] };
const GREY_DOT = { color: 'rgba(120,120,120,0.8)', width: 1.2, dash: [2, 3] };

groups.forEach(group => {
  group.panels.forEach((p, col) => {
    makePanel(group, col, group.ssbRow, ssbDatasets(p.ssb), {
      under: [Object.assign({ value: refLevels[2] }, GREY_DOT)],
      over: [Object.assign({ value: refLevels[1] }, GREY_DASH), Object.assign({ value: refLevels[0] }, GREY_DOT)]
    });
    makePanel(group, col, group.fRow, fDatasets(p.f), {
      under: refLevels.map(v => Object.assign({ value: v }, GREY_DOT))
    });
    addText('title', p.title, group.cols[col] + group.areaW / 2, group.titleBase - 23.7);
  });

  // axis titles
  const ssbMid = (group.ssbRow.four + group.ssbRow.zero) / 2;
  const fMid = (group.fRow.four + group.fRow.zero) / 2;
  addText('ylab', 'SSB/ SSB<span>MSY</span>', 31.5, ssbMid);
  addText('ylab', 'F/ F<span>MSY</span>', 31.5, fMid);
  addText('xlab', 'Projection Years', 593, group.xlabBase - 23.7);

  // median key
  const box = document.createElement('div');
  box.className = 'legbox';
  box.style.left = '143px';
  box.style.top = (group.legendY - 5) + 'px';
  page.appendChild(box);
  addText('leg', 'Median', 171.7, group.legendY - 8.2);
});
</script>
</body>
</html>
